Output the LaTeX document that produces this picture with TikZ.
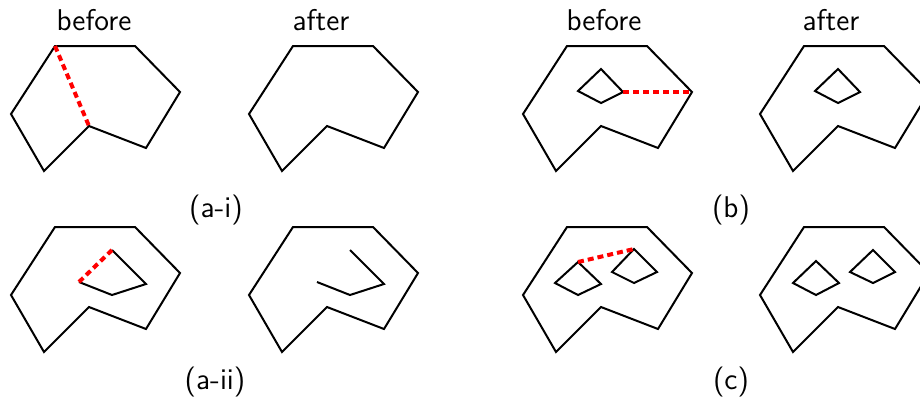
\documentclass[tikz,border=0pt]{standalone}
\begin{document}
\begin{tikzpicture}[x=0.5pt,y=-0.5pt,
  outline/.style={draw=black,line width=1pt},
  bridge/.style={draw=red,line width=2pt,dash pattern=on 3pt off 2pt},
  lbl/.style={font=\sffamily\fontsize{15}{17}\selectfont,anchor=base,inner sep=0pt}]
\useasboundingbox (0,0) rectangle (920,403);

% outer boundary shared by all eight panels
\tikzset{boundary/.pic={
  \draw[outline] (55,46) -- (135,46) -- (180,92) -- (146,148) -- (89,126)
    -- (44,171) -- (11,114) -- cycle;}}

% column headings
\node[lbl] (h1) at (94,30) {before};
\node[lbl] (h2) at (321,30) {after};
\node[lbl] (h3) at (604,30) {before};
\node[lbl] (h4) at (831,30) {after};

% case (a-i): diagonal joining two boundary vertices
\begin{scope}
  \pic {boundary};
  \coordinate (ai1) at (55,46);
  \coordinate (ai2) at (89,126);
  \draw[bridge] (ai1) -- (ai2);
\end{scope}
\begin{scope}[shift={(238,0)}]
  \pic {boundary};
\end{scope}
\node[lbl] (la) at (216,217) {(a-i)};

% case (b): hole bridged to the boundary
\begin{scope}[shift={(512,0)}]
  \pic {boundary};
  \coordinate (bh) at (111,92);
  \coordinate (bo) at (180,92);
  \draw[outline] (89,69) -- (bh) -- (89,103) -- (66,91) -- cycle;
  \draw[bridge] (bh) -- (bo);
\end{scope}
\begin{scope}[shift={(749,0)}]
  \pic {boundary};
  \draw[outline] (89,69) -- (111,92) -- (89,103) -- (66,91) -- cycle;
\end{scope}
\node[lbl] (lb) at (731,217) {(b)};

% case (a-ii): open chain closed by the dashed segment
\begin{scope}[shift={(0,181)}]
  \pic {boundary};
  \coordinate (c1) at (112,69);
  \coordinate (c4) at (79,101);
  \draw[outline] (c1) -- (146,103) -- (112,114) -- (c4);
  \draw[bridge] (c4) -- (c1);
\end{scope}
\begin{scope}[shift={(238,181)}]
  \pic {boundary};
  \draw[outline] (112,69) -- (146,103) -- (112,114) -- (79,101);
\end{scope}
\node[lbl] (laii) at (215,389) {(a-ii)};

% case (c): two holes joined to each other
\begin{scope}[shift={(512,181)}]
  \pic {boundary};
  \coordinate (ht1) at (66,81);
  \coordinate (ht2) at (122,68);
  \draw[outline] (ht1) -- (89,103) -- (66,114) -- (43,102) -- cycle;
  \draw[outline] (ht2) -- (145,91) -- (122,102) -- (100,91) -- cycle;
  \draw[bridge] (ht1) -- (ht2);
\end{scope}
\begin{scope}[shift={(749,181)}]
  \pic {boundary};
  \draw[outline] (67,80) -- (90,102) -- (67,114) -- (44,102) -- cycle;
  \draw[outline] (124,69) -- (146,91) -- (124,102) -- (101,91) -- cycle;
\end{scope}
\node[lbl] (lc) at (731,389) {(c)};
\end{tikzpicture}
\end{document}
